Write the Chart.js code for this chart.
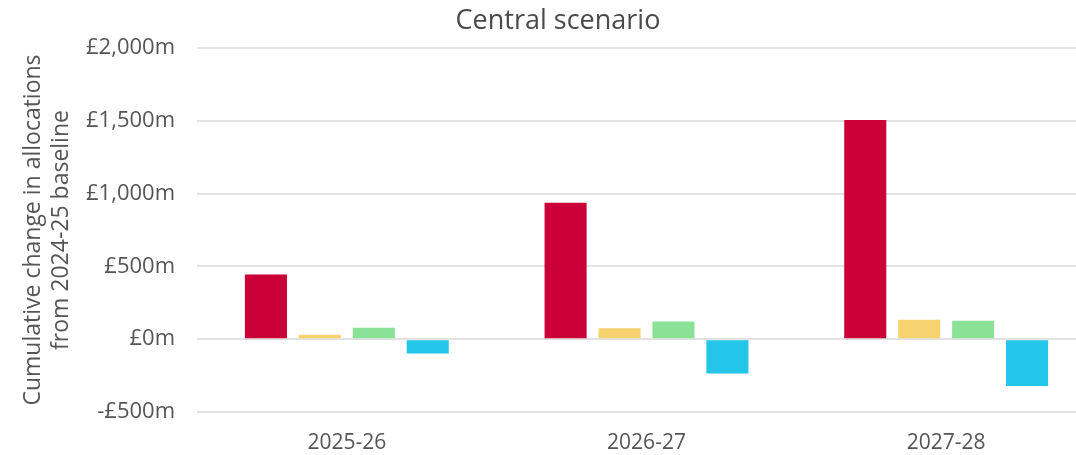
<!DOCTYPE html>
<html>
<head>
<meta charset="utf-8">
<script src="https://cdn.jsdelivr.net/npm/chart.js@4/dist/chart.umd.min.js"></script>
<style>
  html, body { margin: 0; padding: 0; background: #fff; overflow: hidden; }
</style>
</head>
<body>
<canvas id="chart" width="1120" height="455"></canvas>
<script>
'use strict';
// years on the x axis
var years = ['2025-26', '2026-27', '2027-28'];

// cumulative change in allocations, £m
var redSeries = [444, 938, 1506];
var yellowSeries = [30, 76, 133];
var greenSeries = [78, 121, 126];
var cyanSeries = [-98, -236, -321];

var yTickMin = -500;
var yTickMax = 2000;
var yTickStep = 500;

var textColour = '#555555';

function money(v) {
  var s = '£' + Math.abs(v).toLocaleString('en-GB') + 'm';
  return v < 0 ? '-' + s : s;
}

function bars(label, data, colour) {
  return {
    label: label,
    data: data,
    backgroundColor: colour,
    borderWidth: 0,
    categoryPercentage: 0.72,
    barPercentage: 0.78
  };
}

var config = {
  type: 'bar',
  data: {
    labels: years,
    datasets: [
      bars('Series 1', redSeries, '#CC0039'),
      bars('Series 2', yellowSeries, '#F6D36F'),
      bars('Series 3', greenSeries, '#8AE297'),
      bars('Series 4', cyanSeries, '#23C6E9')
    ]
  },
  options: {
    responsive: false,
    animation: false,
    layout: { padding: { left: 20, right: 24, top: 0, bottom: 0 } },
    plugins: {
      legend: { display: false },
      tooltip: { enabled: false },
      title: {
        display: true,
        text: 'Central scenario',
        color: '#4a4a4a',
        font: { family: 'Open Sans', size: 27, weight: 'normal' },
        padding: { top: 5, bottom: 10.6 }
      }
    },
    scales: {
      x: {
        grid: { display: false },
        border: { display: false },
        ticks: {
          color: textColour,
          font: { family: 'Open Sans', size: 21 },
          padding: 10
        },
        afterFit: function(scale) { scale.height = 43; }
      },
      y: {
        min: yTickMin,
        max: yTickMax,
        border: { display: false },
        grid: { color: '#e2e2e2', lineWidth: 2, drawTicks: false },
        ticks: {
          stepSize: yTickStep,
          color: textColour,
          font: { family: 'Open Sans', size: 22 },
          padding: 22,
          callback: function(v) { return money(v); }
        },
        title: {
          display: true,
          text: ['Cumulative change in allocations', 'from 2024-25 baseline'],
          color: textColour,
          font: { family: 'Open Sans', size: 23 },
          padding: { top: 0, bottom: 8 }
        },
        afterFit: function(scale) { scale.width = 177; }
      }
    }
  }
};

window.chart = new Chart(document.getElementById('chart'), config);
</script>
</body>
</html>
